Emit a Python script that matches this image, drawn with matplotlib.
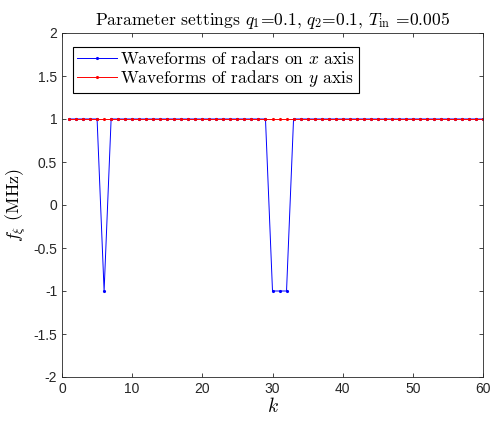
import numpy as np
import matplotlib.pyplot as plt

plt.rcParams['mathtext.fontset'] = 'cm'
plt.rcParams['font.family'] = ['Liberation Sans', 'DejaVu Sans']

# data: slot index and waveform value of each radar
k = np.arange(1, 61)
wave_x = np.ones(60)
wave_x[[5, 29, 30, 31]] = -1   # k = 6, 30, 31, 32
wave_y = np.ones(60)

fig = plt.figure(figsize=(4.97, 4.21), dpi=100)
ax = fig.add_axes([62/497, 1 - 377/421, 421/497, 344/421])

ax.plot(k, wave_x, color='blue', marker='.', markersize=2.5, linewidth=0.7,
        label='Waveforms of radars on $x$ axis')
ax.plot(k, wave_y, color='red', marker='.', markersize=2.5, linewidth=0.7,
        label='Waveforms of radars on $y$ axis')

ax.set_xlim(0, 60)
ax.set_ylim(-2, 2)
ax.set_xticks(np.arange(0, 61, 10))
ax.set_yticks(np.arange(-2, 2.01, 0.5))
ax.set_yticklabels(['-2', '-1.5', '-1', '-0.5', '0', '0.5', '1', '1.5', '2'])
ax.tick_params(direction='in', length=3, width=0.6, labelsize=10, colors='#262626',
               top=True, right=True)
for s in ax.spines.values():
    s.set_linewidth(0.6)
    s.set_color('#262626')

ax.set_xlabel('$k$', fontsize=14, labelpad=1)
ax.set_ylabel(r'$f_\xi$ (MHz)', fontsize=13, family='cmr10', labelpad=4)
ax.set_title(r'Parameter settings $q_1$=0.1, $q_2$=0.1, $T_{\rm in}$ =0.005',
             fontsize=12.6, family='cmr10', pad=6)

leg = ax.legend(loc='upper left', bbox_to_anchor=(0.027, 0.96), borderaxespad=0,
                prop={'family': 'cmr10', 'size': 12.5}, fancybox=False,
                edgecolor='black', framealpha=1, handlelength=2.3,
                handletextpad=0.2, borderpad=0.2, labelspacing=0.05)
leg.get_frame().set_linewidth(0.8)

fig.savefig('out.png', dpi=100)
